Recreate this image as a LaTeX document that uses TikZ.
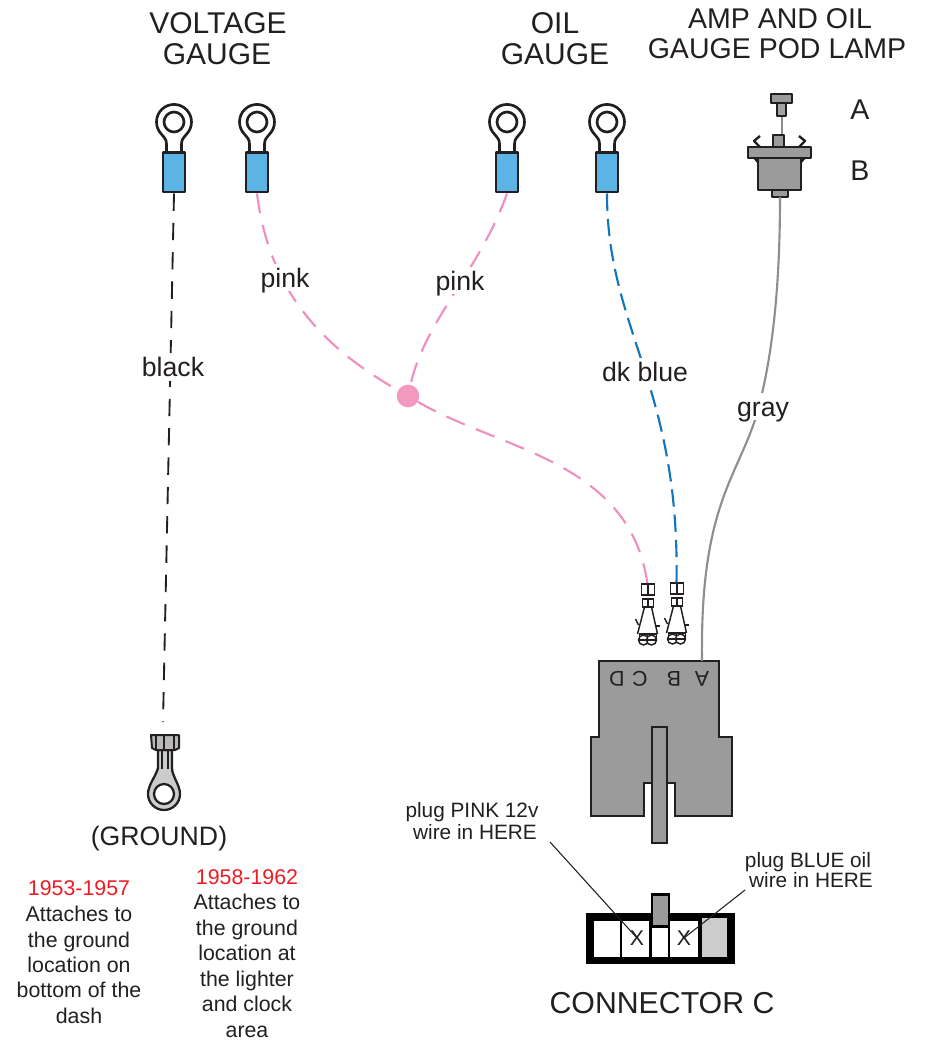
\documentclass[tikz,border=0pt]{standalone}
\usepackage{fontspec}
\setmainfont{Liberation Sans}
\definecolor{wpink}{HTML}{EF8FC0}
\definecolor{dotpink}{HTML}{F49AC1}
\definecolor{wblue}{HTML}{1276B8}
\definecolor{tblue}{HTML}{5CB4E6}
\definecolor{wgray}{HTML}{8E8E8E}
\definecolor{bodygray}{HTML}{9B9B9B}
\definecolor{lightg}{HTML}{CCCCCC}
\definecolor{ink}{HTML}{231F20}
\definecolor{red1}{HTML}{ED1C24}
\tikzset{
  head/.style={text=ink,font=\fontsize{22.5}{26}\selectfont,inner sep=0pt,align=center},
  headb/.style={text=ink,font=\fontsize{21.4}{25}\selectfont,inner sep=0pt,align=center},
  wirelabel/.style={text height=14.4pt,text depth=0pt,text=ink,font=\fontsize{20}{24}\selectfont,fill=white,inner sep=3pt},
  note/.style={text height=11.5pt,text depth=0pt,text=ink,font=\fontsize{16}{19}\selectfont,inner sep=0pt},
  red note/.style={text height=11.5pt,text depth=0pt,text=red1,font=\fontsize{16}{19}\selectfont,inner sep=0pt},
  small note/.style={text height=11.2pt,text depth=0pt,text=ink,font=\fontsize{15.6}{17}\selectfont,inner sep=0pt},
  letter/.style={text=ink,font=\fontsize{16}{18}\selectfont,inner sep=0pt,rotate=180},
  outl/.style={draw=ink,line width=2pt,line join=round},
  thin outl/.style={draw=ink,line width=1pt,line join=round},
  pinkw/.style={draw=wpink,line width=1.6pt,dash pattern=on 15pt off 9pt},
  bluew/.style={draw=wblue,line width=1.6pt,dash pattern=on 13pt off 6pt},
  blackw/.style={draw=ink,line width=1.4pt,dash pattern=on 13pt off 9pt},
  grayw/.style={draw=wgray,line width=1.6pt},
  pics/ringterm/.style={code={
    \draw[outl,fill=white] (-7.5,29) -- (-7.5,22) .. controls (-7.5,17) and (-10,15.5) .. (-12.6,12.1)
       arc[start angle=136,end angle=404,radius=17.5]
       .. controls (10,15.5) and (7.5,17) .. (7.5,22) -- (7.5,29);
    \draw[outl] (0,0) circle[radius=10];
    \node[outl,fill=tblue,minimum width=16.5pt,minimum height=29.5pt,inner sep=0pt,anchor=north] (-body) at (0,29.5) {};
  }},
  pics/smallterm/.style={code={
    \begin{scope}[line width=1.1pt,draw=ink]
    \draw[fill=white] (-6,0) rectangle (0,11);
    \draw[fill=white] (1,0) rectangle (7,11);
    \draw[fill=white] (-5,15) rectangle (0,23);
    \draw[fill=white] (1,15) rectangle (6,23);
    \draw (-3,23) -- (-10,50);
    \draw (4,23) -- (10,50);
    \draw (-12,35) -- (-9,41);
    \draw (8,42) -- (12,42);
    \draw[fill=white] (-4,56) circle[radius=5];
    \draw[fill=white] (4,56) circle[radius=5];
    \draw (-8,50) rectangle (9,56);
    \draw (0,50) -- (0,56);
    \end{scope}
    \coordinate (-top) at (0,0);
  }},
}
\begin{document}
\begin{tikzpicture}[x=0.75pt,y=-0.75pt]
\useasboundingbox (0,0) rectangle (924,1041);

% headers
\node[head] (h1a) at (218,23) {VOLTAGE};
\node[head] (h1b) at (217,54) {GAUGE};
\node[head] (h2a) at (555,23) {OIL};
\node[head] (h2b) at (555,54) {GAUGE};
\node[headb] (h3a) at (780,19) {AMP AND OIL};
\node[headb] (h3b) at (777,49) {GAUGE POD LAMP};
\node[headb] (la) at (860,110) {A};
\node[headb] (lb) at (860,171) {B};

% ring terminals
\pic (t1) at (174,122) {ringterm};
\pic (t2) at (257,122) {ringterm};
\pic (t3) at (507,122) {ringterm};
\pic (t4) at (607,122) {ringterm};

% lamp
\draw[wgray,line width=1.5pt] (782,116) -- (782,135);
\draw[thin outl,fill=lightg!80!black] (777,103) rectangle (786,116);
\draw[thin outl,fill=bodygray] (771,94) rectangle (792,103);
\draw[outl,fill=bodygray,line width=1.8pt] (773,147) -- (773,135) -- (784,135) -- (784,147);
\draw[outl,line width=1.8pt] (760,136) -- (754,141) -- (760,147);
\draw[outl,line width=1.8pt] (799,136) -- (805,141) -- (799,147);
\draw[outl,fill=bodygray,line width=1.5pt] (772,190) rectangle (788,197);
\fill[ink] (753,158) -- (758,164) -- (758,158) -- cycle;
\fill[ink] (806,158) -- (801,164) -- (801,158) -- cycle;
\draw[outl,fill=bodygray] (758,158) rectangle (801,190);
\draw[outl,fill=bodygray] (748,147) rectangle (811,158);
\coordinate (lampb) at (780,197);

% ground terminal
\draw[thin outl,line width=1.7pt,fill=lightg] (158,750) -- (158,768) .. controls (156,776) and (148,785) .. (148,794)
  arc[start angle=180,end angle=0,radius=16] .. controls (180,785) and (172,776) .. (172,768) -- (172,750) -- cycle;
\draw[thin outl,line width=1.7pt,fill=white] (164,794) circle[radius=10];
\draw[thin outl,line width=1pt] (162,750) -- (162,769) (168,750) -- (168,769);
\draw[thin outl,line width=1.5pt,fill=bodygray!70!white] (151,735) -- (179,735) -- (179,748) -- (175,750) -- (156,750) -- (152,748) -- cycle;
\draw[thin outl,line width=1pt] (156,735) -- (156,750) (164,735) -- (164,750) (174,735) -- (174,750);
\coordinate (gnd) at (163,722);

% small terminals
\pic (s1) at (647.5,584) {smallterm};
\pic (s2) at (676.5,583) {smallterm};

% connector A
\draw[outl,fill=bodygray,line width=1.7pt,line join=miter]
  (599,661) -- (719,661) -- (719,737) -- (732,737) -- (732,816) -- (675,816) -- (675,783)
  -- (644,783) -- (644,816) -- (591,816) -- (591,737) -- (599,737) -- cycle;
\draw[outl,fill=bodygray,line width=1.7pt,line join=miter] (652,727) rectangle (667,843);
\coordinate (ca) at (702,661);
\node[letter] (lA) at (702,679) {A};
\node[letter] (lB) at (674,679) {B};
\node[letter] (lC) at (640,679) {C};
\node[letter] (lD) at (617,679) {D};

% wires
\node[circle,fill=dotpink,minimum size=17pt,inner sep=0pt] (dot) at (408,396) {};
\draw[blackw] (t1-body.south) -- (gnd);
\draw[pinkw] (t2-body.south) .. controls (268,280) and (310,340) .. (dot);
\draw[pinkw] (t3-body.south) .. controls (480,270) and (425,320) .. (dot);
\draw[pinkw] (dot) .. controls (500,450) and (630,460) .. (s1-top);
\draw[bluew] (t4-body.south) .. controls (607,330) and (680,385) .. (s2-top);
\draw[grayw] (lampb) .. controls (780,300) and (770,370) .. (755,420)
   .. controls (735,480) and (700,510) .. (ca);

% wire labels
\node[wirelabel] (w1) at (173,367) {black};
\node[wirelabel] (w2) at (285,277.5) {pink};
\node[wirelabel] (w3) at (460,280.5) {pink};
\node[wirelabel] (w4) at (645,372) {dk blue};
\node[wirelabel] (w5) at (763,406.5) {gray};

% ground text
\node[text=ink,font=\fontsize{20}{24}\selectfont,inner sep=0pt] (g) at (159,839) {(GROUND)};
\node[red note] (r1) at (79,888) {1953-1957};
\node[note] at (79,914) {Attaches to};
\node[note] at (79,940) {the ground};
\node[note] at (79,965) {location on};
\node[note] at (79,990) {bottom of the};
\node[note] at (79,1016) {dash};
\node[red note] (r2) at (247,877) {1958-1962};
\node[note] at (247,902) {Attaches to};
\node[note] at (247,928) {the ground};
\node[note] at (247,953) {location at};
\node[note] at (247,979) {the lighter};
\node[note] at (247,1004) {and clock};
\node[note] at (247,1030) {area};

% connector C
\fill[black] (586,913) rectangle (735,964);
\fill[white] (594,921) rectangle (620,957);
\fill[white] (622,921) rectangle (649,957);
\fill[white] (652,928) rectangle (668,957);
\fill[white] (670,921) rectangle (698,957);
\fill[lightg] (702,918) rectangle (727,957);
\draw[draw=black,line width=2pt,fill=bodygray,line join=miter] (652,894.5) rectangle (669,926);
\node[text=ink,font=\fontsize{16}{18}\selectfont,inner sep=0pt] (x1) at (637,938) {X};
\node[text=ink,font=\fontsize{16}{18}\selectfont,inner sep=0pt] (x2) at (684,938) {X};
\node[small note] (p1a) at (472,810.5) {plug PINK 12v};
\node[small note] (p1b) at (475,832) {wire in HERE};
\node[small note] (p2a) at (808,860.5) {plug BLUE oil};
\node[small note] (p2b) at (811,880) {wire in HERE};
\coordinate (p1s) at (550,842);
\coordinate (p2s) at (745,890);
\draw[ink,line width=.8pt] (p1s) -- (x1.center);
\draw[ink,line width=.8pt] (p2s) -- (x2.center);
\node[text=ink,font=\fontsize{22.7}{26}\selectfont,inner sep=0pt] (cc) at (662,1003) {CONNECTOR C};
\end{tikzpicture}
\end{document}
